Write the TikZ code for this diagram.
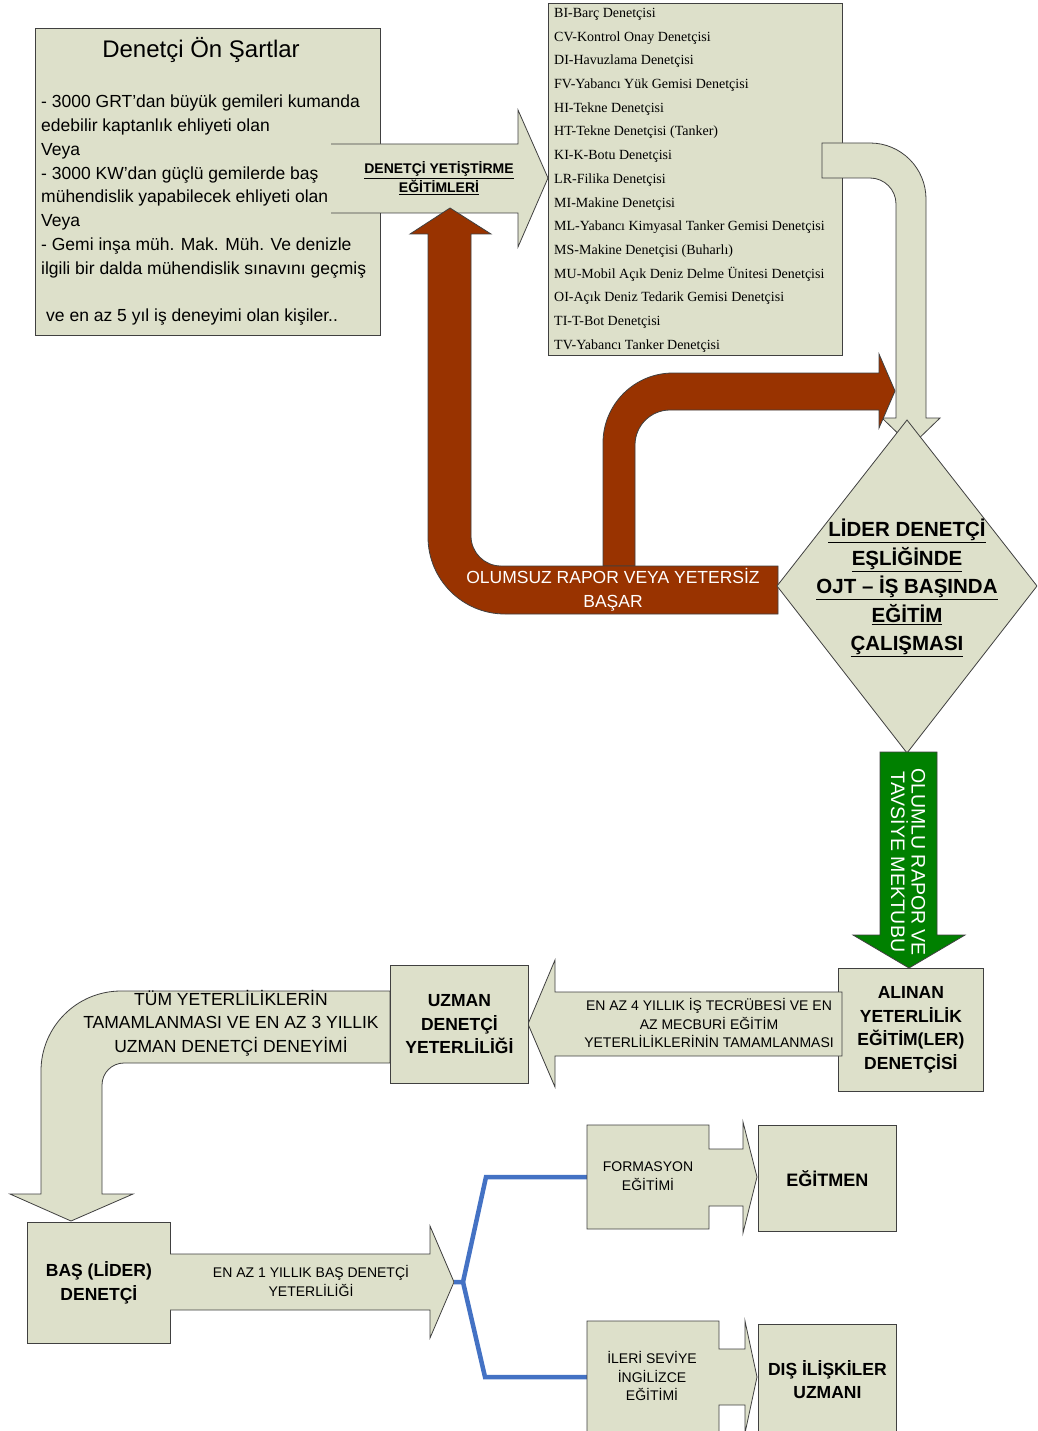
\documentclass[tikz,border=0pt]{standalone}
\usepackage{fontspec}
\setmainfont{Liberation Sans}
\newfontfamily\listfont{Liberation Serif}
\usepackage{tikz}
\definecolor{pale}{RGB}{221,224,202}
\definecolor{rust}{RGB}{153,51,0}
\definecolor{leaf}{RGB}{0,128,0}
\definecolor{linkblue}{RGB}{68,114,196}
\tikzset{palebox/.style={draw=black!75,fill=pale,line width=0.8pt,inner sep=0pt,anchor=north west},
palearrow/.style={draw=black!75,fill=pale,line width=0.8pt},
rustarrow/.style={draw=black!75,fill=rust,line width=0.8pt},
leafarrow/.style={draw=black!75,fill=leaf,line width=0.8pt},
boxtext/.style={font=\bfseries\fontsize{17.5}{23.5}\selectfont,align=center},
arrowtext/.style={font=\fontsize{14}{18.5}\selectfont,align=center},
blueline/.style={draw=linkblue,line width=4.5pt}}

\begin{document}
\begin{tikzpicture}[x=1pt,y=-1pt]
\fill[white] (0,0) rectangle (1037,1431);
\path[use as bounding box] (0,0) rectangle (1037,1431);
\clip (0,0) rectangle (1037,1431);

\node[palebox,minimum width=345,minimum height=307] (cond) at (35,28) {};
\node[font=\fontsize{24}{28}\selectfont] (condtitle) at (201,50) {Denetçi Ön Şartlar};
\node[anchor=north west,inner sep=0pt,align=left,font=\fontsize{17.5}{23.75}\selectfont] (condtext) at (41,95)
{- 3000 GRT’dan büyük gemileri kumanda\\edebilir kaptanlık ehliyeti olan\\Veya\\- 3000 KW’dan  güçlü  gemilerde baş\\mühendislik yapabilecek ehliyeti olan\\Veya\\- Gemi inşa müh.  Mak. Müh. Ve denizle\\ilgili bir dalda mühendislik sınavını geçmiş\\[23.75pt]\hspace*{5pt}ve en az 5 yıl iş deneyimi olan kişiler..};

\draw[palearrow] (331,144) -- (518,144) -- (518,110) -- (548,178) -- (518,247) -- (518,213) -- (331,213);
\node[font=\bfseries\fontsize{14}{19}\selectfont,align=center] (trainnote) at (439,178) {\underline{DENETÇİ YETİŞTİRME}\\\underline{EĞİTİMLERİ}};

\node[palebox,minimum width=294,minimum height=352] (roles) at (548,3) {};
\node[anchor=north west,inner sep=0pt,align=left,font={\listfont\fontsize{14}{23.7}\selectfont}] (rolelist) at (554,8)
{BI-Barç Denetçisi\\CV-Kontrol Onay Denetçisi\\DI-Havuzlama Denetçisi\\FV-Yabancı Yük Gemisi Denetçisi\\HI-Tekne Denetçisi\\HT-Tekne Denetçisi (Tanker)\\KI-K-Botu Denetçisi\\LR-Filika Denetçisi\\MI-Makine Denetçisi\\ML-Yabancı Kimyasal Tanker Gemisi Denetçisi\\MS-Makine Denetçisi (Buharlı)\\MU-Mobil Açık Deniz Delme Ünitesi Denetçisi\\OI-Açık Deniz Tedarik Gemisi Denetçisi\\TI-T-Bot Denetçisi\\TV-Yabancı Tanker Denetçisi};

\draw[palearrow] (822,143) -- (870,143) arc[start angle=-90,end angle=0,radius=56] -- (926,418) -- (940,418) -- (911,446) -- (882,418) -- (896,418) -- (896,204) arc[start angle=0,end angle=-90,radius=26] -- (822,178) -- cycle;

\draw[rustarrow] (603,566) -- (603,443) arc[start angle=180,end angle=270,radius=70] -- (879,373) -- (879,354) -- (895,391) -- (879,428) -- (879,410) -- (670,410) arc[start angle=270,end angle=180,radius=35] -- (635,566) -- cycle;
\draw[rustarrow] (778,566) -- (778,614) -- (505,614) arc[start angle=90,end angle=180,radius=77] -- (428,234) -- (410,234) -- (450,208) -- (491,234) -- (471,234) -- (471,536) arc[start angle=180,end angle=90,radius=30] -- cycle;
\node[text=white,font=\fontsize{17.5}{24}\selectfont,align=center] (failnote) at (613,590) {OLUMSUZ RAPOR VEYA YETERSİZ\\BAŞAR};

\draw[palearrow] (907,420) -- (1037,586) -- (907,753) -- (777,586) -- cycle;
\node[font=\bfseries\fontsize{20.5}{28.5}\selectfont,align=center] (ojt) at (907,588) {\underline{LİDER DENETÇİ}\\\underline{EŞLİĞİNDE}\\\underline{OJT – İŞ BAŞINDA}\\\underline{EĞİTİM}\\\underline{ÇALIŞMASI}};

\draw[leafarrow] (880,752) -- (880,935) -- (853,935) -- (909,968) -- (965,935) -- (937,935) -- (937,752) -- cycle;
\node[rotate=-90,text=white,font=\fontsize{19.5}{20.5}\selectfont,align=center] (passnote) at (908,862) {OLUMLU RAPOR VE\\TAVSİYE MEKTUBU};

\node[palebox,boxtext,minimum width=145,minimum height=123] (alinan) at (838,968) {ALINAN\\YETERLİLİK\\EĞİTİM(LER)\\DENETÇİSİ};
\draw[palearrow] (842,992) -- (555,992) -- (555,960) -- (528,1024) -- (555,1087) -- (555,1056) -- (842,1056) -- cycle;
\node[arrowtext] (fournote) at (709,1023) {EN AZ 4 YILLIK İŞ TECRÜBESİ VE EN\\AZ MECBURİ EĞİTİM\\YETERLİLİKLERİNİN TAMAMLANMASI};

\draw[palearrow] (390,991) -- (121,991) arc[start angle=270,end angle=180,radius=80] -- (41,1194) -- (10,1194) -- (71,1221) -- (133,1194) -- (102,1194) -- (102,1085) arc[start angle=180,end angle=270,radius=22] -- (390,1063) -- cycle;
\node[font=\fontsize{17.5}{23.5}\selectfont,align=center] (allnote) at (231,1023) {TÜM YETERLİLİKLERİN\\TAMAMLANMASI VE EN AZ 3 YILLIK\\UZMAN DENETÇİ DENEYİMİ};
\node[palebox,boxtext,minimum width=138,minimum height=118] (uzman) at (390,965) {UZMAN\\DENETÇİ\\YETERLİLİĞİ};

\node[palebox,boxtext,minimum width=143,minimum height=121] (bas) at (27,1222) {BAŞ (LİDER)\\DENETÇİ};
\draw[palearrow] (170,1254) -- (430,1254) -- (430,1226) -- (454,1282) -- (430,1338) -- (430,1310) -- (170,1310);
\node[arrowtext] (onenote) at (311,1281) {EN AZ 1 YILLIK BAŞ DENETÇİ\\YETERLİLİĞİ};

\coordinate (bastip) at (454,1282);
\coordinate (fork) at (463,1282);
\coordinate (formin) at (587,1177);
\coordinate (ingin) at (587,1377);
\draw[blueline] (bastip) -- (fork) -- (486,1177) -- (formin);
\draw[blueline] (fork) -- (485,1377) -- (ingin);

\draw[palearrow] (587,1125) -- (709,1125) -- (709,1149) -- (743,1149) -- (743,1122) -- (757,1177) -- (743,1233) -- (743,1206) -- (709,1206) -- (709,1229) -- (587,1229) -- cycle;
\node[arrowtext] (formnote) at (648,1176) {FORMASYON\\EĞİTİMİ};
\node[palebox,font=\bfseries\fontsize{18}{24}\selectfont,minimum width=138,minimum height=106] (egitmen) at (758,1125) {EĞİTMEN};

\draw[palearrow] (587,1321) -- (719,1321) -- (719,1349) -- (745,1349) -- (745,1321) -- (757,1377) -- (745,1433) -- (745,1405) -- (719,1405) -- (719,1433) -- (587,1433) -- cycle;
\node[arrowtext] (ingnote) at (652,1376) {İLERİ SEVİYE\\İNGİLİZCE\\EĞİTİMİ};
\node[palebox,boxtext,minimum width=138,minimum height=110] (dis) at (758,1324) {DIŞ İLİŞKİLER\\UZMANI};
\end{tikzpicture}
\end{document}
